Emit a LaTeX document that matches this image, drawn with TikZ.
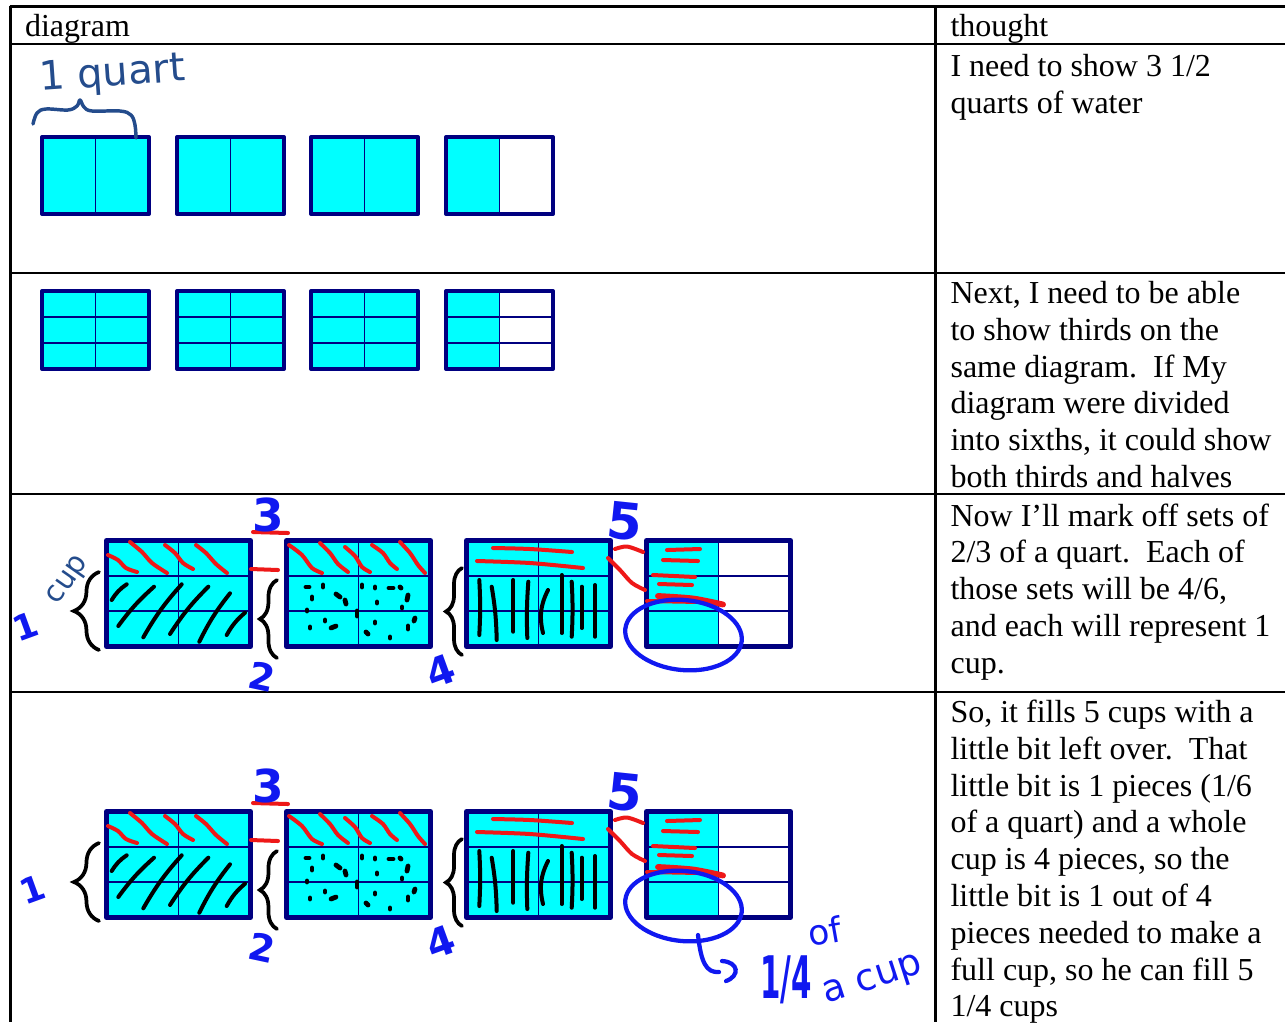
\documentclass[tikz,border=0pt]{standalone}
\usepackage{fontspec}
\setmainfont{Liberation Serif}
\newfontfamily\handfont{DejaVu Sans}
\usetikzlibrary{decorations.pathreplacing}

\definecolor{quartcyan}{RGB}{0,255,255}
\definecolor{quartnavy}{RGB}{0,0,128}
\definecolor{inkred}{RGB}{238,24,24}
\definecolor{inkblue}{RGB}{16,24,240}
\definecolor{inkdark}{RGB}{36,76,140}

% one quart: #1 left, #2 top, #3 width, #4 height, #5 rows (1 or 3), #6 full (1) or half (0)
\newcommand\quartbox[6]{%
  \fill[quartcyan] (#1,#2) rectangle (#1+#3,#2+#4);
  \ifnum#6=0 \fill[white] (#1+#3/2,#2) rectangle (#1+#3,#2+#4);\fi
  \ifnum#5=3
    \draw[box rule] (#1,#2+#4/3) -- (#1+#3,#2+#4/3);
    \draw[box rule] (#1,#2+2*#4/3) -- (#1+#3,#2+2*#4/3);
  \fi
  \draw[box rule] (#1+#3/2,#2) -- (#1+#3/2,#2+#4);
  \draw[box edge] (#1,#2) rectangle (#1+#3,#2+#4);
}

% the marked-up row of quarts: #1 name prefix, #2 vertical offset
\newcommand\cupsrow[2]{%
\begin{scope}[shift={(0,#2)}]
  \begin{scope}[box edge/.style={line width=1.9pt, quartnavy, line join=round}]
    \quartbox{106.5}{540.5}{144}{106}{3}{1}
    \quartbox{286.5}{540.5}{144}{106}{3}{1}
    \quartbox{466.5}{540.5}{144}{106}{3}{1}
    \quartbox{646.5}{540.5}{144}{106}{3}{0}
  \end{scope}
  % first cup: diagonal hatching
  \draw[black ink] (111.7,600) to[bend left=12] (126.7,584.3);
  \draw[black ink] (118.3,626) to[bend left=6] (154,586.7);
  \draw[black ink] (143.3,637.3) to[bend left=6] (181.7,584.3);
  \draw[black ink] (170,634) to[bend left=6] (208.3,586.7);
  \draw[black ink] (199.3,641.7) to[bend left=6] (230,593.3);
  \draw[black ink] (226.7,635) to[bend left=10] (245,612.7);
  % second cup: dots
  \foreach \px/\py/\dx/\dy in {306/587/3/0, 323/585/0/2, 312/597/0/2, 336/594/4/3, 345/600/1/4,
      362/585/0/2, 375/587/0/1, 389/588/4/0, 400/587/1/1, 408/595/-1/5, 377/602/0/1,
      307/610/0/1, 357/611/0/5, 402/607/0/1, 310/627/0/1, 325/620/0/1, 331/628/5/-2,
      366/632/2/2, 375/622/0/1, 390/637/0/1, 408/626/0/3, 415/618/-1/3}
    \draw[dot ink] (\px,\py) -- ++(\dx,\dy);
  % third cup: upright strokes
  \draw[black ink] (479.3,580) to[bend left=3] (479.3,635);
  \draw[black ink] (491.7,586.7) to[bend left=4] (496.7,640);
  \draw[black ink] (513.3,580) -- (513.3,631.7);
  \draw[black ink] (528.3,581.7) to[bend right=3] (527.3,638);
  \draw[black ink] (548,590) to[bend right=20] (543,633);
  \draw[black ink] (561.7,575) -- (561.7,633);
  \draw[black ink] (571.7,581.7) to[bend left=3] (571.7,636.7);
  \draw[black ink] (581.7,586.7) -- (581.7,628);
  \draw[black ink] (595,585) -- (595,636.7);
  % red thirds marked off
  \foreach \ax/\ay/\bx/\by/\cx/\cy/\ex/\ey in {
      108/555/118/560/126/568/137/572, 130/542/142/552/152/563/167/573,
      165/545/175/553/183/563/193/569, 196/545/206/553/216/564/227/573,
      289/545/302/555/312/568/322/573, 320/543/330/553/338/564/348/572,
      345/547/355/556/362/567/370/572, 372/545/383/553/390/563/397/569,
      400/542/410/553/418/565/425/573}
    \draw[red ink] plot[smooth] coordinates {(\ax,\ay) (\bx,\by) (\cx,\cy) (\ex,\ey)};
  \draw[red ink] (253,532) -- (288,533);
  \draw[red ink] (251,569) -- (278,570);
  \draw[red ink] plot[smooth] coordinates {(493,548) (530,549) (572,552)};
  \draw[red ink] plot[smooth] coordinates {(477,561) (530,563) (583,568)};
  \draw[red ink] plot[smooth] coordinates {(615,549) (627,546.5) (643,552)};
  \draw[red ink] plot[smooth] coordinates {(608,558) (620,570) (632,583) (645,590)};
  \draw[red ink] (667,550) -- (700,549);
  \draw[red ink] (663,560) -- (698,561);
  \draw[red ink] (653,575) -- (695,577);
  \draw[red ink] (659,584) -- (692,585);
  \draw[red ink, line width=2.2pt] plot[smooth] coordinates {(658,596) (693,598.5) (723,604.5)};
  \draw[red ink] (647,601) -- (700,602);
  % braces grouping each cup
  \draw[ink brace=9.4pt] (99,650) -- (99,572);
  \draw[ink brace=6.4pt] (277,658) -- (277,580);
  \draw[ink brace=6pt] (462,655) -- (462,568);
  % cup counts
  \node[bold hand=17, text=inkblue] (#1-three) at (268,515) {3};
  \node[bold hand=14, text=inkblue, rotate=-12] (#1-two) at (262,677) {2};
  \node[bold hand=15, text=inkblue, rotate=20] (#1-four) at (441,671) {4};
  \node[bold hand=19, text=inkblue, rotate=-6] (#1-five) at (625,521) {5};
  % the piece left over
  \draw[blue ink] (683.5,635) ellipse [x radius=58.5, y radius=35, rotate=-6];
\end{scope}}

\begin{document}
\begin{tikzpicture}[x=0.375pt, y=-0.375pt,
  grid line/.style={line width=1.1pt, black},
  cell text/.style={anchor=base west, inner sep=0pt, font=\fontsize{12}{13.8}\selectfont},
  box edge/.style={line width=1.5pt, quartnavy, line join=round},
  box rule/.style={line width=0.6pt, quartnavy},
  red ink/.style={inkred, line width=1.5pt, line cap=round, line join=round},
  black ink/.style={black, line width=1.5pt, line cap=round},
  dot ink/.style={black, line width=1.8pt, line cap=round},
  blue ink/.style={inkblue, line width=1.6pt, line cap=round},
  hand/.style={inner sep=0pt, font=\handfont\fontsize{#1}{#1}\selectfont},
  bold hand/.style={inner sep=0pt, font=\handfont\bfseries\fontsize{#1}{#1}\selectfont},
  ink brace/.style={decorate, decoration={brace, amplitude=#1}, black, line width=1.4pt, line cap=round}]
\useasboundingbox (0,0) rectangle (1285,1022);
\clip (0,0) rectangle (1285,1022);

% table rules
\draw[grid line] (9.5,6.5) -- (1285,6.5);
\draw[grid line] (10.5,6) -- (10.5,1022);
\draw[grid line] (935.5,6) -- (935.5,1022);
\foreach \yy in {44,273,494,692}
  \draw[grid line] (10.5,\yy) -- (1285,\yy);

% headings
\node[cell text] (head-diagram) at (24.5,36) {diagram};
\node[cell text] (head-thought) at (950,36) {thought};

% thoughts
\foreach \t [count=\i from 0] in {{I need to show 3 1/2},{quarts of water}}
  \node[cell text] (thA-\i) at (950,76.5+36.8*\i) {\t};
\foreach \t [count=\i from 0] in {{Next, I need to be able},{to show thirds on the},
    {same diagram.\ \ If My},{diagram were divided},{into sixths, it could show},
    {both thirds and halves}}
  \node[cell text] (thB-\i) at (950,303.5+36.8*\i) {\t};
\foreach \t [count=\i from 0] in {{Now I’ll mark off sets of},{2/3 of a quart.\ \ Each of},
    {those sets will be 4/6,},{and each will represent 1},{cup.}}
  \node[cell text] (thC-\i) at (950,526+36.8*\i) {\t};
\foreach \t [count=\i from 0] in {{So, it fills 5 cups with a},{little bit left over.\ \ That},
    {little bit is 1 pieces (1/6},{of a quart) and a whole},{cup is 4 pieces, so the},
    {little bit is 1 out of 4},{pieces needed to make a},{full cup, so he can fill 5},
    {1/4 cups}}
  \node[cell text] (thD-\i) at (950,722.5+36.8*\i) {\t};

% halves
\quartbox{42}{137}{107}{77}{1}{1}
\quartbox{177}{137}{107}{77}{1}{1}
\quartbox{311}{137}{107}{77}{1}{1}
\quartbox{446}{137}{107}{77}{1}{0}
\node[hand=15, text=inkdark, anchor=base west, rotate=4] (quart-label) at (40,91) {1 quart};
\draw[inkdark, line width=1.3pt, line cap=round, line join=round]
  plot[smooth, tension=0.6] coordinates {(33,124) (37,113) (46,109) (68,110) (77,106)
    (80,100) (84,107) (92,111) (120,111) (131,115) (135,125) (136,138)};

% sixths
\quartbox{42}{291}{107}{78}{3}{1}
\quartbox{177}{291}{107}{78}{3}{1}
\quartbox{311}{291}{107}{78}{3}{1}
\quartbox{446}{291}{107}{78}{3}{0}

% sets of four sixths
\cupsrow{setsC}{0}
\node[bold hand=13, text=inkblue, rotate=20] (setsC-one) at (26,626) {1};
\node[hand=11, text=inkdark, rotate=55] (setsC-cup) at (69,581) {cup};

% five cups and a quarter
\cupsrow{setsD}{271}
\node[bold hand=13, text=inkblue, rotate=20] (setsD-one) at (33,889) {1};
\draw[blue ink] (698,935) .. controls (701,962) and (706,973) .. (719,972);
\draw[blue ink] (722,961) .. controls (739,962) and (740,976) .. (726,981);
\node[bold hand=22, text=inkblue, anchor=base west, xscale=0.5] (setsD-quarter) at (760,998) {1/4};
\node[hand=13, text=inkblue, anchor=base west, rotate=10] (setsD-of) at (810,947) {of};
\node[hand=14, text=inkblue, anchor=base west, rotate=18] (setsD-cup) at (826,1004) {a cup};
\end{tikzpicture}
\end{document}
